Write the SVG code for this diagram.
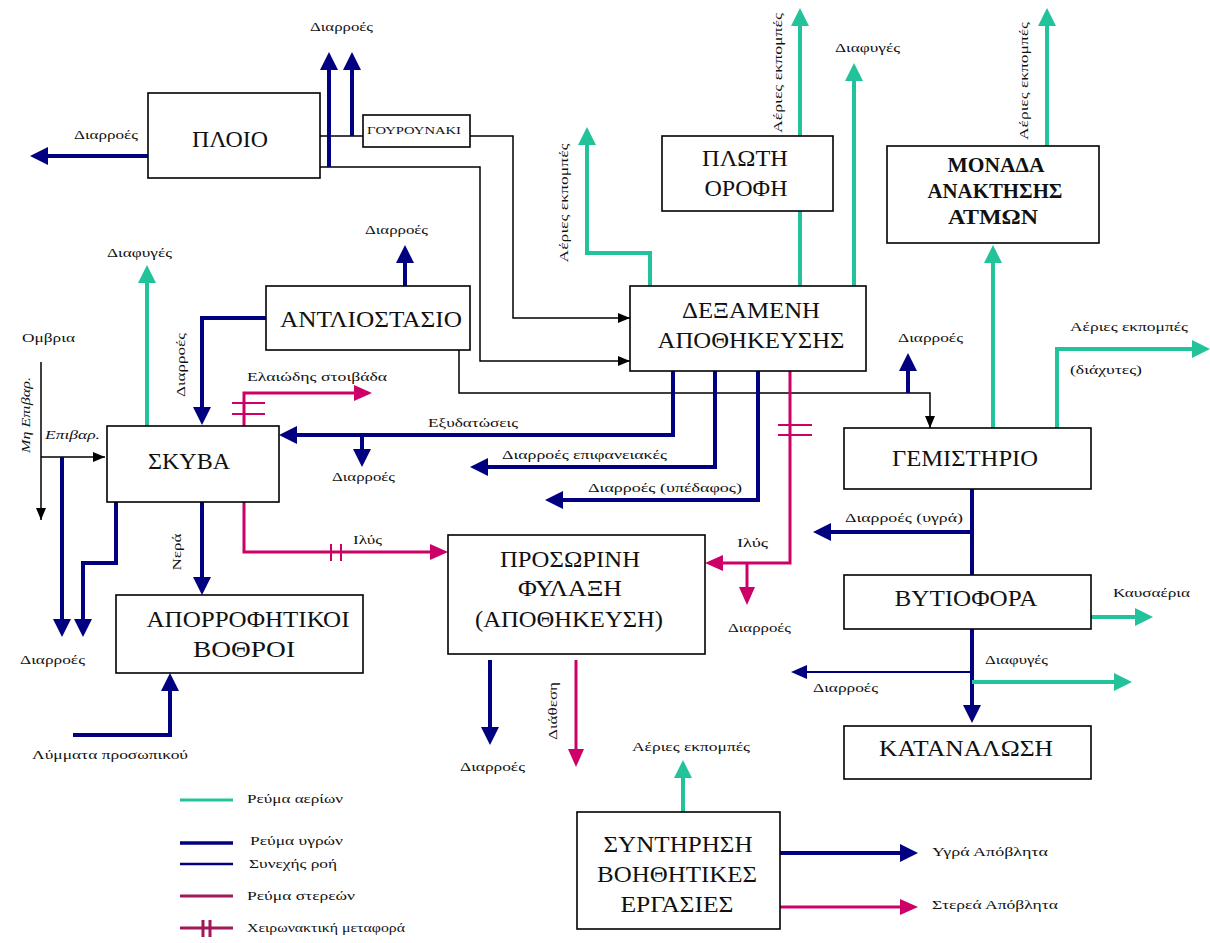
<svg xmlns="http://www.w3.org/2000/svg" width="1210" height="943" viewBox="0 0 1210 943">
<style>
.box{fill:#fff;stroke:#000;stroke-width:1.6}
.bt{font-family:"Liberation Serif","DejaVu Serif","Noto Serif",serif;font-size:24px;fill:#111;text-anchor:middle}
.bb{font-family:"Liberation Serif","DejaVu Serif","Noto Serif",serif;font-size:20px;font-weight:bold;fill:#111;text-anchor:middle}
.lb{font-family:"Liberation Serif","DejaVu Serif","Noto Serif",serif;font-size:13px;fill:#111}
.lr{font-family:"Liberation Serif","DejaVu Serif","Noto Serif",serif;font-size:13px;fill:#111;text-anchor:middle;dominant-baseline:central}
.b{fill:none;stroke:#000080;stroke-width:4}
.bs{fill:none;stroke:#000080;stroke-width:2}
.g{fill:none;stroke:#22C39B;stroke-width:4}
.p{fill:none;stroke:#CC0066;stroke-width:3}
.ph{fill:none;stroke:#CC0066;stroke-width:2}
.k{fill:none;stroke:#000;stroke-width:1.5}
</style>
<defs>
<marker id="aB" markerUnits="userSpaceOnUse" markerWidth="18" markerHeight="18" refX="14" refY="9" orient="auto"><path d="M0,0 L18,9 L0,18 z" fill="#000080"/></marker>
<marker id="aBs" markerUnits="userSpaceOnUse" markerWidth="16" markerHeight="14" refX="14" refY="7" orient="auto"><path d="M0,0 L16,7 L0,14 z" fill="#000080"/></marker>
<marker id="aG" markerUnits="userSpaceOnUse" markerWidth="18" markerHeight="18" refX="14" refY="9" orient="auto"><path d="M0,0 L18,9 L0,18 z" fill="#22C39B"/></marker>
<marker id="aP" markerUnits="userSpaceOnUse" markerWidth="18" markerHeight="16" refX="14" refY="8" orient="auto"><path d="M0,0 L18,8 L0,16 z" fill="#CC0066"/></marker>
<marker id="aK" markerUnits="userSpaceOnUse" markerWidth="12" markerHeight="10" refX="12" refY="5" orient="auto"><path d="M0,0 L12,5 L0,10 z" fill="#000"/></marker>
</defs>

<g id="connectors">
<path class="k" d="M320,136 L363,136"/>
<path class="k" d="M470,136 L513,136 L513,318 L630,318" marker-end="url(#aK)"/>
<path class="k" d="M320,167 L480,167 L480,361 L630,361" marker-end="url(#aK)"/>
<path class="k" d="M459,350 L459,393 L930,393 L930,428" marker-end="url(#aK)"/>
<path class="k" d="M41,362 L41,520" marker-end="url(#aK)"/>
<path class="k" d="M41,457 L105,457" marker-end="url(#aK)"/>
<path class="b" d="M148,156 L34,156" marker-end="url(#aB)"/>
<path class="b" d="M329,167 L329,56" marker-end="url(#aB)"/>
<path class="b" d="M352,136 L352,56" marker-end="url(#aB)"/>
<path class="b" d="M405,286 L405,249" marker-end="url(#aB)"/>
<path class="b" d="M266,318 L202,318 L202,421" marker-end="url(#aB)"/>
<path class="b" d="M673,371 L673,435 L283,435" marker-end="url(#aB)"/>
<path class="b" d="M362,435 L362,463" marker-end="url(#aB)"/>
<path class="b" d="M715,371 L715,467 L474,467" marker-end="url(#aB)"/>
<path class="b" d="M758,371 L758,500 L549,500" marker-end="url(#aB)"/>
<path class="b" d="M202,502 L202,591" marker-end="url(#aB)"/>
<path class="b" d="M62,457 L62,633" marker-end="url(#aB)"/>
<path class="b" d="M116,502 L116,563 L83,563 L83,633" marker-end="url(#aB)"/>
<path class="b" d="M73,735 L170,735 L170,677" marker-end="url(#aB)"/>
<path class="b" d="M490,660 L490,741" marker-end="url(#aB)"/>
<path class="b" d="M908,393 L908,357" marker-end="url(#aB)"/>
<path class="b" d="M972,489 L972,575"/>
<path class="b" d="M972,532 L817,532" marker-end="url(#aB)"/>
<path class="b" d="M972,629 L972,719" marker-end="url(#aB)"/>
<path class="bs" d="M972,672 L793,672" marker-end="url(#aBs)"/>
<path class="b" d="M780,853 L914,853" marker-end="url(#aB)"/>
<path class="g" d="M147,426 L147,269" marker-end="url(#aG)"/>
<path class="g" d="M650,286 L650,253 L587,253 L587,131" marker-end="url(#aG)"/>
<path class="g" d="M800,286 L800,211"/>
<path class="g" d="M800,136 L800,12" marker-end="url(#aG)"/>
<path class="g" d="M854,286 L854,67" marker-end="url(#aG)"/>
<path class="g" d="M993,428 L993,249" marker-end="url(#aG)"/>
<path class="g" d="M1047,146 L1047,12" marker-end="url(#aG)"/>
<path class="g" d="M1057,428 L1057,349 L1206,349" marker-end="url(#aG)"/>
<path class="g" d="M1091,617 L1149,617" marker-end="url(#aG)"/>
<path class="g" d="M972,682 L1128,682" marker-end="url(#aG)"/>
<path class="g" d="M683,812 L683,764" marker-end="url(#aG)"/>
<path class="p" d="M244,426 L244,393 L368,393" marker-end="url(#aP)"/>
<path class="ph" d="M232,403 L265,403 M232,414 L265,414"/>
<path class="p" d="M244,502 L244,552 L444,552" marker-end="url(#aP)"/>
<path class="ph" d="M331,544 L331,561 M341,544 L341,561"/>
<path class="p" d="M790,371 L790,563 L709,563" marker-end="url(#aP)"/>
<path class="ph" d="M778,425 L812,425 M778,435 L812,435"/>
<path class="p" d="M747,563 L747,601" marker-end="url(#aP)"/>
<path class="p" d="M576,660 L576,763" marker-end="url(#aP)"/>
<path class="p" d="M780,907 L914,907" marker-end="url(#aP)"/>
</g>

<g id="ploio"><rect class="box" x="148" y="93" width="172" height="85"/><text class="bt" x="230" y="147" textLength="76" lengthAdjust="spacingAndGlyphs">ΠΛΟΙΟ</text></g>
<g id="gourounaki"><rect class="box" x="363" y="115" width="107" height="32"/><text class="bt" x="414" y="134" style="font-size:11px" textLength="94" lengthAdjust="spacingAndGlyphs">ΓΟΥΡΟΥΝΑΚΙ</text></g>
<g id="antliostasio"><rect class="box" x="266" y="286" width="204" height="64"/><text class="bt" x="371" y="327" textLength="182" lengthAdjust="spacingAndGlyphs">ΑΝΤΛΙΟΣΤΑΣΙΟ</text></g>
<g id="skyva"><rect class="box" x="107" y="426" width="172" height="76"/><text class="bt" x="189" y="469" textLength="82" lengthAdjust="spacingAndGlyphs">ΣΚΥΒΑ</text></g>
<g id="aporrofitikoi"><rect class="box" x="116" y="595" width="247" height="78"/><text class="bt" x="248" y="627" textLength="203" lengthAdjust="spacingAndGlyphs">ΑΠΟΡΡΟΦΗΤΙΚΟΙ</text><text class="bt" x="244" y="657" textLength="102" lengthAdjust="spacingAndGlyphs">ΒΟΘΡΟΙ</text></g>
<g id="dexameni"><rect class="box" x="630" y="286" width="236" height="85"/><text class="bt" x="751" y="318" textLength="138" lengthAdjust="spacingAndGlyphs">ΔΕΞΑΜΕΝΗ</text><text class="bt" x="751" y="348" textLength="187" lengthAdjust="spacingAndGlyphs">ΑΠΟΘΗΚΕΥΣΗΣ</text></g>
<g id="prosorini"><rect class="box" x="448" y="535" width="257" height="119"/><text class="bt" x="570" y="567" textLength="140" lengthAdjust="spacingAndGlyphs">ΠΡΟΣΩΡΙΝΗ</text><text class="bt" x="570" y="596" textLength="104" lengthAdjust="spacingAndGlyphs">ΦΥΛΑΞΗ</text><text class="bt" x="569" y="627" textLength="188" lengthAdjust="spacingAndGlyphs">(ΑΠΟΘΗΚΕΥΣΗ)</text></g>
<g id="ploti"><rect class="box" x="662" y="136" width="171" height="75"/><text class="bt" x="745" y="166" textLength="86" lengthAdjust="spacingAndGlyphs">ΠΛΩΤΗ</text><text class="bt" x="746" y="196" textLength="83" lengthAdjust="spacingAndGlyphs">ΟΡΟΦΗ</text></g>
<g id="monada"><rect class="box" x="887" y="146" width="212" height="97"/><text class="bb" x="996" y="172" textLength="97" lengthAdjust="spacingAndGlyphs">ΜΟΝΑΔΑ</text><text class="bb" x="995" y="198" textLength="135" lengthAdjust="spacingAndGlyphs">ΑΝΑΚΤΗΣΗΣ</text><text class="bb" x="993" y="224" textLength="90" lengthAdjust="spacingAndGlyphs">ΑΤΜΩΝ</text></g>
<g id="gemistirio"><rect class="box" x="844" y="428" width="247" height="61"/><text class="bt" x="965" y="466" textLength="146" lengthAdjust="spacingAndGlyphs">ΓΕΜΙΣΤΗΡΙΟ</text></g>
<g id="bytiofora"><rect class="box" x="844" y="575" width="247" height="54"/><text class="bt" x="966" y="606" textLength="143" lengthAdjust="spacingAndGlyphs">ΒΥΤΙΟΦΟΡΑ</text></g>
<g id="katanalosi"><rect class="box" x="844" y="726" width="247" height="53"/><text class="bt" x="966" y="756" textLength="174" lengthAdjust="spacingAndGlyphs">ΚΑΤΑΝΑΛΩΣΗ</text></g>
<g id="syntirisi"><rect class="box" x="577" y="812" width="203" height="117"/><text class="bt" x="678" y="852" textLength="149" lengthAdjust="spacingAndGlyphs">ΣΥΝΤΗΡΗΣΗ</text><text class="bt" x="677" y="882" textLength="160" lengthAdjust="spacingAndGlyphs">ΒΟΗΘΗΤΙΚΕΣ</text><text class="bt" x="677" y="912" textLength="113" lengthAdjust="spacingAndGlyphs">ΕΡΓΑΣΙΕΣ</text></g>

<g id="labels">
<text class="lb" x="74" y="139" textLength="64" lengthAdjust="spacingAndGlyphs">Διαρροές</text>
<text class="lb" x="310" y="31" textLength="63" lengthAdjust="spacingAndGlyphs">Διαρροές</text>
<text class="lb" x="107" y="257" textLength="65" lengthAdjust="spacingAndGlyphs">Διαφυγές</text>
<text class="lb" x="365" y="234" textLength="63" lengthAdjust="spacingAndGlyphs">Διαρροές</text>
<text class="lb" x="22" y="342" textLength="53" lengthAdjust="spacingAndGlyphs">Ομβρια</text>
<text class="lb" x="45" y="439" style="font-style:italic" textLength="55" lengthAdjust="spacingAndGlyphs">Επιβαρ.</text>
<text class="lb" x="247" y="381" textLength="140" lengthAdjust="spacingAndGlyphs">Ελαιώδης στοιβάδα</text>
<text class="lb" x="428" y="427" textLength="90" lengthAdjust="spacingAndGlyphs">Εξυδατώσεις</text>
<text class="lb" x="332" y="481" textLength="63" lengthAdjust="spacingAndGlyphs">Διαρροές</text>
<text class="lb" x="502" y="459" textLength="165" lengthAdjust="spacingAndGlyphs">Διαρροές επιφανειακές</text>
<text class="lb" x="588" y="492" textLength="154" lengthAdjust="spacingAndGlyphs">Διαρροές (υπέδαφος)</text>
<text class="lb" x="353" y="544" textLength="29" lengthAdjust="spacingAndGlyphs">Ιλύς</text>
<text class="lb" x="737" y="547" textLength="31" lengthAdjust="spacingAndGlyphs">Ιλύς</text>
<text class="lb" x="728" y="632" textLength="63" lengthAdjust="spacingAndGlyphs">Διαρροές</text>
<text class="lb" x="20" y="664" textLength="65" lengthAdjust="spacingAndGlyphs">Διαρροές</text>
<text class="lb" x="32" y="759" textLength="156" lengthAdjust="spacingAndGlyphs">Λύμματα προσωπικού</text>
<text class="lb" x="460" y="771" textLength="65" lengthAdjust="spacingAndGlyphs">Διαρροές</text>
<text class="lb" x="632" y="751" textLength="118" lengthAdjust="spacingAndGlyphs">Αέριες εκπομπές</text>
<text class="lb" x="932" y="856" textLength="116" lengthAdjust="spacingAndGlyphs">Υγρά Απόβλητα</text>
<text class="lb" x="932" y="909" textLength="126" lengthAdjust="spacingAndGlyphs">Στερεά Απόβλητα</text>
<text class="lb" x="845" y="522" textLength="118" lengthAdjust="spacingAndGlyphs">Διαρροές (υγρά)</text>
<text class="lb" x="1113" y="597" textLength="77" lengthAdjust="spacingAndGlyphs">Καυσαέρια</text>
<text class="lb" x="985" y="664" textLength="63" lengthAdjust="spacingAndGlyphs">Διαφυγές</text>
<text class="lb" x="813" y="692" textLength="65" lengthAdjust="spacingAndGlyphs">Διαρροές</text>
<text class="lb" x="1070" y="331" textLength="118" lengthAdjust="spacingAndGlyphs">Αέριες εκπομπές</text>
<text class="lb" x="1070" y="374" textLength="72" lengthAdjust="spacingAndGlyphs">(διάχυτες)</text>
<text class="lb" x="898" y="342" textLength="65" lengthAdjust="spacingAndGlyphs">Διαρροές</text>
<text class="lb" x="835" y="52" textLength="65" lengthAdjust="spacingAndGlyphs">Διαφυγές</text>
<text class="lr" transform="translate(180,365) rotate(-90)" textLength="64" lengthAdjust="spacingAndGlyphs">Διαρροές</text>
<text class="lr" transform="translate(176,552) rotate(-90)" textLength="37" lengthAdjust="spacingAndGlyphs">Νερά</text>
<text class="lr" transform="translate(25,415) rotate(-90)" style="font-style:italic" textLength="76" lengthAdjust="spacingAndGlyphs">Μη Επιβαρ.</text>
<text class="lr" transform="translate(563,203) rotate(-90)" textLength="119" lengthAdjust="spacingAndGlyphs">Αέριες εκπομπές</text>
<text class="lr" transform="translate(777,73) rotate(-90)" textLength="120" lengthAdjust="spacingAndGlyphs">Αέριες εκπομπές</text>
<text class="lr" transform="translate(1023,81) rotate(-90)" textLength="118" lengthAdjust="spacingAndGlyphs">Αέριες εκπομπές</text>
<text class="lr" transform="translate(552,711) rotate(-90)" textLength="58" lengthAdjust="spacingAndGlyphs">Διάθεση</text>
</g>

<g id="legend">
<path d="M180,800 L233,800" fill="none" stroke="#22C39B" stroke-width="3"/>
<path d="M180,843 L233,843" fill="none" stroke="#000080" stroke-width="3.5"/>
<path d="M180,864 L233,864" fill="none" stroke="#000080" stroke-width="2.5"/>
<path d="M180,896 L233,896" fill="none" stroke="#A0185A" stroke-width="3"/>
<path d="M180,928 L233,928 M203,920 L203,937 M210,920 L210,937" fill="none" stroke="#A0185A" stroke-width="3"/>
<text class="lb" x="247" y="803" textLength="96" lengthAdjust="spacingAndGlyphs">Ρεύμα αερίων</text>
<text class="lb" x="250" y="845" textLength="93" lengthAdjust="spacingAndGlyphs">Ρεύμα υγρών</text>
<text class="lb" x="249" y="868" textLength="88" lengthAdjust="spacingAndGlyphs">Συνεχής ροή</text>
<text class="lb" x="247" y="900" textLength="108" lengthAdjust="spacingAndGlyphs">Ρεύμα στερεών</text>
<text class="lb" x="247" y="932" textLength="158" lengthAdjust="spacingAndGlyphs">Χειρωνακτική μεταφορά</text>
</g>
</svg>
